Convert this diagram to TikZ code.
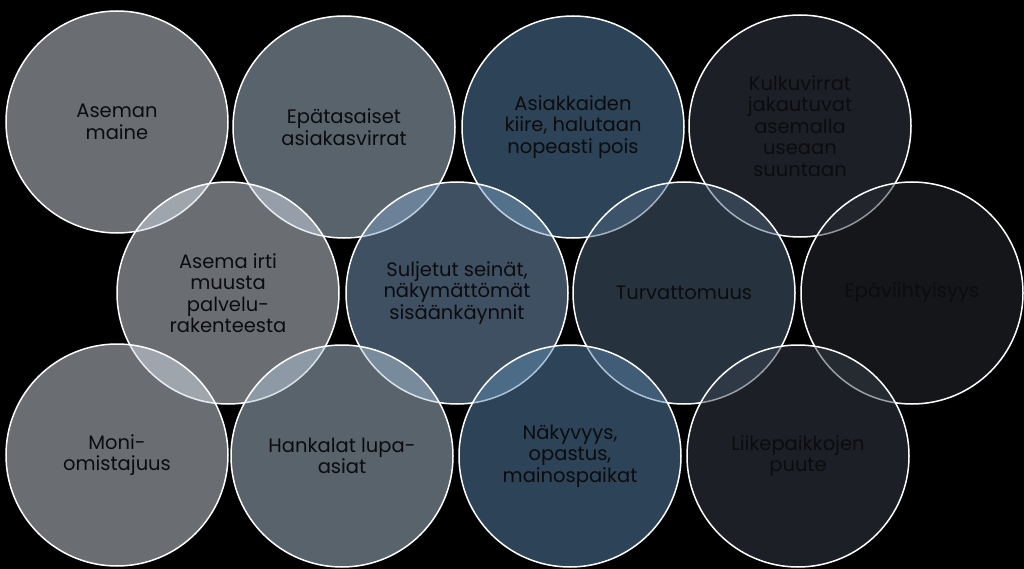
\documentclass[tikz,border=0pt]{standalone}
\usepackage{fontspec}
\setmainfont{Poppins}
\definecolor{cA}{RGB}{212,220,230}
\definecolor{cB}{RGB}{176,198,216}
\definecolor{cC}{RGB}{90,134,174}
\definecolor{cD}{RGB}{56,64,76}
\definecolor{cF}{RGB}{124,160,194}
\definecolor{cG}{RGB}{76,100,124}
\definecolor{cH}{RGB}{40,44,50}
\definecolor{txt}{RGB}{12,12,14}
\tikzset{
  circ/.style={circle, draw=white, line width=1.5pt, fill opacity=0.5, text opacity=1,
    minimum size=222pt, inner sep=0pt, align=center, text=txt,
    font=\fontsize{19.5}{21.5}\selectfont}
}
\begin{document}
\begin{tikzpicture}[x=1pt,y=-1pt]
\fill[black] (0,0) rectangle (1024,569);
\useasboundingbox (0,0) rectangle (1024,569);
% row 1
\node[circ, fill=cA] (n1) at (117,122) {Aseman\\maine};
\node[circ, fill=cB] (n2) at (344,127) {Epätasaiset\\asiakasvirrat};
\node[circ, fill=cC] (n3) at (573,127) {Asiakkaiden\\kiire, halutaan\\nopeasti pois};
\node[circ, fill=cD] (n4) at (800,126) {Kulkuvirrat\\jakautuvat\\asemalla\\useaan\\suuntaan};
% row 2
\node[circ, fill=cA] (n5) at (228,293) {Asema irti\\muusta\\palvelu-\\rakenteesta};
\node[circ, fill=cF] (n6) at (457,293) {Suljetut seinät,\\näkymättömät\\sisäänkäynnit};
\node[circ, fill=cG] (n7) at (684,293) {Turvattomuus};
\node[circ, fill=cH] (n8) at (912,293) {Epäviihtyisyys};
% row 3
\node[circ, fill=cA] (n9) at (117,455) {Moni-\\omistajuus};
\node[circ, fill=cB] (n10) at (342,456) {Hankalat lupa-\\asiat};
\node[circ, fill=cC] (n11) at (570,456) {Näkyvyys,\\opastus,\\mainospaikat};
\node[circ, fill=cD] (n12) at (798,456) {Liikepaikkojen\\puute};
\end{tikzpicture}
\end{document}
